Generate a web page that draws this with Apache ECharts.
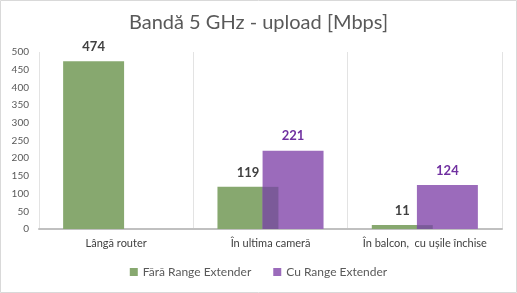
<!DOCTYPE html>
<html><head><meta charset="utf-8">
<script src="https://cdn.jsdelivr.net/npm/echarts@6/dist/echarts.min.js"></script>
<style>html,body{margin:0;padding:0;background:#fff}#c{width:517px;height:293px}</style>
</head><body><div id="c"></div>
<script>
const title = 'Bandă 5 GHz - upload [Mbps]';
const categories = ['Lângă router', 'În ultima cameră', 'În balcon,  cu ușile închise'];
const seriesNames = ['Fără Range Extender', 'Cu Range Extender'];
const faraValues = [474, 119, 11];
const cuValues = [null, 221, 124];
const yTicks = [0, 50, 100, 150, 200, 250, 300, 350, 400, 450, 500];

const FONT = 'Lato';
const GREEN = '#87a86f';
const PURPLE = '#9b6bbb';
const BAR_RATIO = 0.395;
const GAP = -0.26;

const chart = echarts.init(document.getElementById('c'), null, {renderer: 'canvas'});
chart.setOption({
  animation: false,
  textStyle: {fontFamily: FONT},
  title: {text: title, left: 'center', top: 8,
    textStyle: {fontFamily: FONT, fontSize: 20, fontWeight: 'normal', color: '#595959'}},
  graphic: [{type: 'rect', silent: true, shape: {x: 0.5, y: 0.5, width: 516, height: 292},
    style: {fill: 'none', stroke: '#d9d9d9', lineWidth: 1}, z: 100}],
  legend: {bottom: 10, left: 'center', itemWidth: 8, itemHeight: 8, itemGap: 22,
    icon: 'rect', data: seriesNames,
    textStyle: {fontFamily: FONT, fontSize: 12, color: '#595959'}},
  grid: {left: 39, right: 15, top: 52, bottom: 64, containLabel: false},
  xAxis: {type: 'category', data: categories,
    axisLine: {lineStyle: {color: '#c0c0c0', width: 2}},
    axisTick: {show: false},
    splitLine: {show: true, lineStyle: {color: '#e3e3e3', width: 1}},
    axisLabel: {fontFamily: FONT, fontSize: 11, color: '#404040', margin: 9, interval: 0}},
  yAxis: {type: 'value', min: yTicks[0], max: yTicks[yTicks.length - 1], interval: 50,
    axisLine: {show: false}, axisTick: {show: false}, splitLine: {show: false},
    axisLabel: {fontFamily: FONT, fontSize: 10, color: '#595959', margin: 10}},
  series: [
    {name: seriesNames[0], type: 'bar', data: faraValues, barWidth: (BAR_RATIO * 100) + '%',
      barGap: (GAP * 100) + '%', itemStyle: {color: GREEN}, z: 2,
      label: {show: true, position: 'top', distance: 8, fontFamily: FONT, fontSize: 13,
        fontWeight: 'bold', color: '#404040'}},
    {name: seriesNames[1], type: 'bar', data: cuValues, barWidth: (BAR_RATIO * 100) + '%',
      barGap: (GAP * 100) + '%', itemStyle: {color: PURPLE}, z: 3,
      label: {show: true, position: 'top', distance: 8, fontFamily: FONT, fontSize: 13,
        fontWeight: 'bold', color: '#7030a0'}},
    {type: 'custom', silent: true, z: 4,
      data: categories.map((c, i) => [i, Math.min(faraValues[i] || 0, cuValues[i] || 0)]),
      renderItem: function (params, api) {
        const idx = api.value(0), v = api.value(1);
        if (!v) return null;
        const base = api.coord([idx, 0]);
        const top = api.coord([idx, v]);
        const band = api.size([1, 0])[0];
        const bw = band * BAR_RATIO, gp = bw * GAP;
        const total = 2 * bw + gp;
        const gLeft = base[0] - total / 2;
        const gRight = gLeft + bw;
        const pLeft = gLeft + bw + gp;
        return {type: 'rect', shape: {x: pLeft, y: top[1], width: gRight - pLeft, height: base[1] - top[1]},
          style: {fill: '#7b5a99'}};
      }}
  ]
});
</script></body></html>
